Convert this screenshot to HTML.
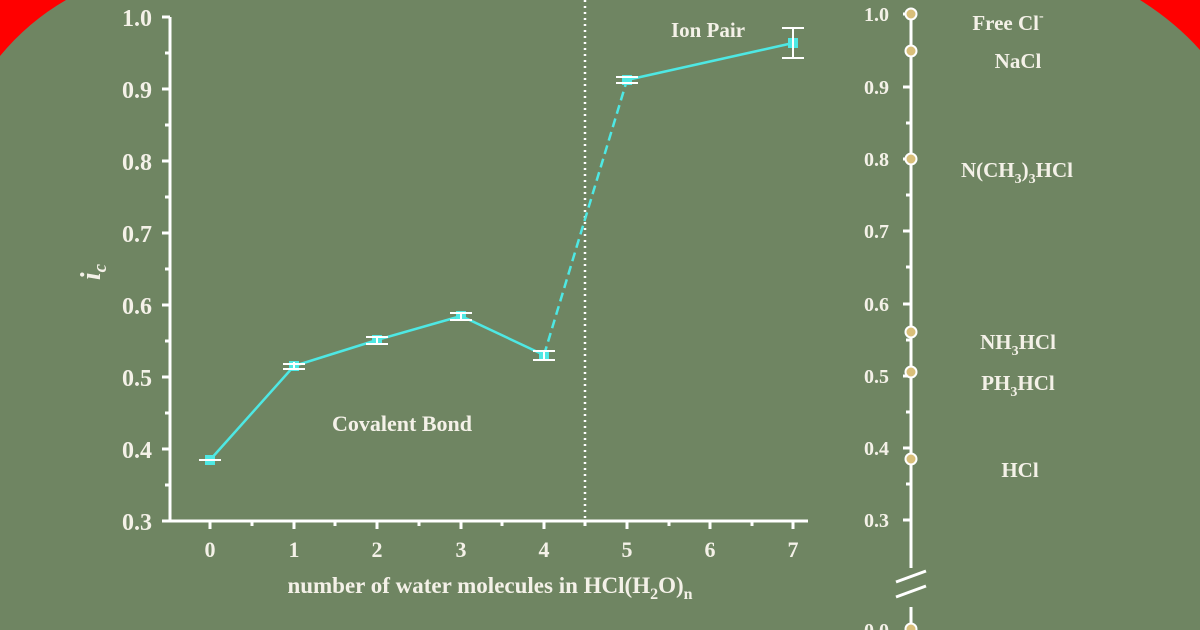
<!DOCTYPE html>
<html><head><style>
body{margin:0;width:1200px;height:630px;overflow:hidden;background:#6f8562}
svg{display:block}
text{font-family:"Liberation Serif",serif;font-weight:bold;fill:#f4f1e8}
</style></head><body>
<svg width="1200" height="630" viewBox="0 0 1200 630">
<rect width="1200" height="630" fill="#6f8562"/>
<path d="M0,0 L66,0 Q28,22 0,56 Z" fill="#ff0000"/>
<path d="M1200,0 L1140,0 Q1175,22 1200,50 Z" fill="#ff0000"/>
<g stroke="#fff" stroke-width="3" fill="none">
<path d="M170,17 V521 H808"/>
<path d="M162,17H170M162,89H170M162,161H170M162,233H170M162,305H170M162,377H170M162,449H170M162,521H170"/>
<path d="M165,53H170M165,125H170M165,197H170M165,269H170M165,341H170M165,413H170M165,485H170"/>
<path d="M210,521v8M294,521v8M377,521v8M461,521v8M544,521v8M627,521v8M710,521v8M793,521v8"/>
<path d="M252,521v5M335,521v5M419,521v5M502,521v5M585,521v5M669,521v5M752,521v5"/>
</g>
<g font-size="24" text-anchor="end">
<text x="152" y="26">1.0</text><text x="152" y="98">0.9</text><text x="152" y="170">0.8</text><text x="152" y="242">0.7</text><text x="152" y="314">0.6</text><text x="152" y="386">0.5</text><text x="152" y="458">0.4</text><text x="152" y="530">0.3</text>
</g>
<g font-size="22" text-anchor="middle">
<text x="210" y="557">0</text><text x="294" y="557">1</text><text x="377" y="557">2</text><text x="461" y="557">3</text><text x="544" y="557">4</text><text x="627" y="557">5</text><text x="710" y="557">6</text><text x="793" y="557">7</text>
</g>
<text x="490" y="593" font-size="23" text-anchor="middle">number of water molecules in HCl(H<tspan font-size="16" dy="6">2</tspan><tspan dy="-6">O)</tspan><tspan font-size="16" dy="6">n</tspan></text>
<text transform="translate(100,272) rotate(-90)" font-size="28" font-style="italic" text-anchor="middle">i<tspan font-size="19" dy="6">c</tspan></text>
<text x="402" y="431" font-size="22" text-anchor="middle">Covalent Bond</text>
<text x="708" y="37" font-size="21" text-anchor="middle">Ion Pair</text>
<line x1="585" y1="0" x2="585" y2="521" stroke="#fff" stroke-width="2.5" stroke-dasharray="2,4"/>
<polyline points="210,460 294,366 377,340 461,316 544,355" fill="none" stroke="#4ee8e4" stroke-width="2.5"/>
<line x1="544" y1="355" x2="627" y2="80" stroke="#4ee8e4" stroke-width="2.5" stroke-dasharray="9,5"/>
<line x1="627" y1="80" x2="793" y2="43" stroke="#4ee8e4" stroke-width="2.5"/>
<g fill="#4ee8e4"><rect x="205" y="455" width="10" height="10"/><rect x="289" y="361" width="10" height="10"/><rect x="372" y="335" width="10" height="10"/><rect x="456" y="311" width="10" height="10"/><rect x="539" y="350" width="10" height="10"/><rect x="622" y="75" width="10" height="10"/><rect x="788" y="38" width="10" height="10"/></g>
<g stroke="#fff" stroke-width="2" fill="none">
<path d="M199,460h22M283,364h22M283,369h22M366,337h22M366,344h22M450,313h22M450,320h22M533,351h22M533,360h22M616,77h22M616,83h22M782,28h22M782,58h22M793,28v30M294,362v8M377,336v8M461,312v8M544,351v9"/>
</g>
<g stroke="#fff" stroke-width="3" fill="none">
<path d="M911,14V568M911,607V629"/>
<path d="M903,14h8M903,87h8M903,159h8M903,231h8M903,304h8M903,376h8M903,448h8M903,520h8"/>
<path d="M906,50h5M906,123h5M906,195h5M906,267h5M906,340h5M906,412h5M906,484h5"/>
<path d="M896,582l30,-11M896,597l30,-11"/>
</g>
<g font-size="20" text-anchor="end">
<text x="889" y="21">1.0</text><text x="889" y="94">0.9</text><text x="889" y="166">0.8</text><text x="889" y="238">0.7</text><text x="889" y="311">0.6</text><text x="889" y="383">0.5</text><text x="889" y="455">0.4</text><text x="889" y="527">0.3</text><text x="889" y="637">0.0</text>
</g>
<g fill="#d9bf7a" stroke="#fff" stroke-width="2">
<circle cx="911" cy="14" r="5.5"/><circle cx="911" cy="51" r="5.5"/><circle cx="911" cy="159" r="5.5"/><circle cx="911" cy="332" r="5.5"/><circle cx="911" cy="372" r="5.5"/><circle cx="911" cy="459" r="5.5"/><circle cx="911" cy="629" r="5.5"/>
</g>
<g font-size="21" text-anchor="middle">
<text x="1008" y="30">Free Cl<tspan font-size="14" dy="-10">-</tspan></text>
<text x="1018" y="68">NaCl</text>
<text x="1017" y="177">N(CH<tspan font-size="14" dy="6">3</tspan><tspan dy="-6">)</tspan><tspan font-size="14" dy="6">3</tspan><tspan dy="-6">HCl</tspan></text>
<text x="1018" y="349">NH<tspan font-size="14" dy="6">3</tspan><tspan dy="-6">HCl</tspan></text>
<text x="1018" y="390">PH<tspan font-size="14" dy="6">3</tspan><tspan dy="-6">HCl</tspan></text>
<text x="1020" y="477">HCl</text>
</g>
</svg>
</body></html>
